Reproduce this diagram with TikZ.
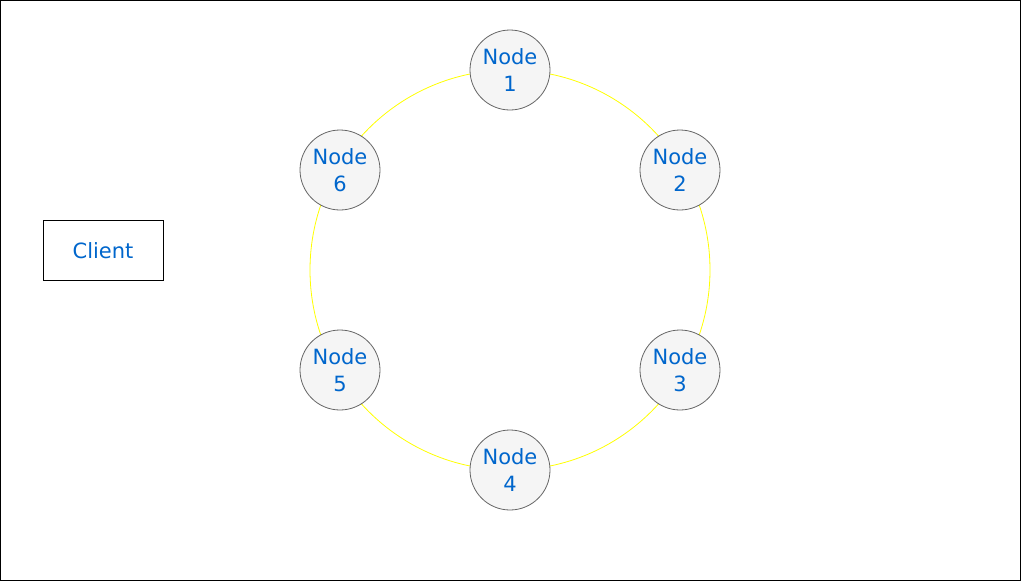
\documentclass[tikz,border=0pt]{standalone}
\usepackage{fontspec}
\setmainfont{DejaVu Sans}
\definecolor{txtblue}{HTML}{0066CC}
\definecolor{nodefill}{HTML}{F5F5F5}
\definecolor{nodeline}{HTML}{666666}
\definecolor{ringyellow}{HTML}{FFFF00}
\begin{document}
\begin{tikzpicture}[x=1pt,y=-1pt,
  ringnode/.style={circle,draw=nodeline,fill=nodefill,line width=0.8pt,minimum size=80pt,inner sep=0pt,
    text=txtblue,align=center,font=\fontsize{21}{27}\selectfont},
  clientbox/.style={rectangle,draw=black,line width=1pt,minimum width=120pt,minimum height=60pt,
    text=txtblue,font=\fontsize{21}{27}\selectfont},
  ringline/.style={circle,draw=ringyellow,line width=0.8pt,minimum size=400pt,inner sep=0pt}]
\draw[black,line width=1pt] (0.5,0.5) rectangle (1020.5,580.5);
\useasboundingbox (0,0) rectangle (1021,581);
\node[ringline] (ring) at (510,270) {};
\node[ringnode] (n1) at (510,70) {Node\\1};
\node[ringnode] (n2) at (680,170) {Node\\2};
\node[ringnode] (n3) at (680,370) {Node\\3};
\node[ringnode] (n4) at (510,470) {Node\\4};
\node[ringnode] (n5) at (340,370) {Node\\5};
\node[ringnode] (n6) at (340,170) {Node\\6};
\node[clientbox] (client) at (103,250.5) {Client};
\end{tikzpicture}
\end{document}
